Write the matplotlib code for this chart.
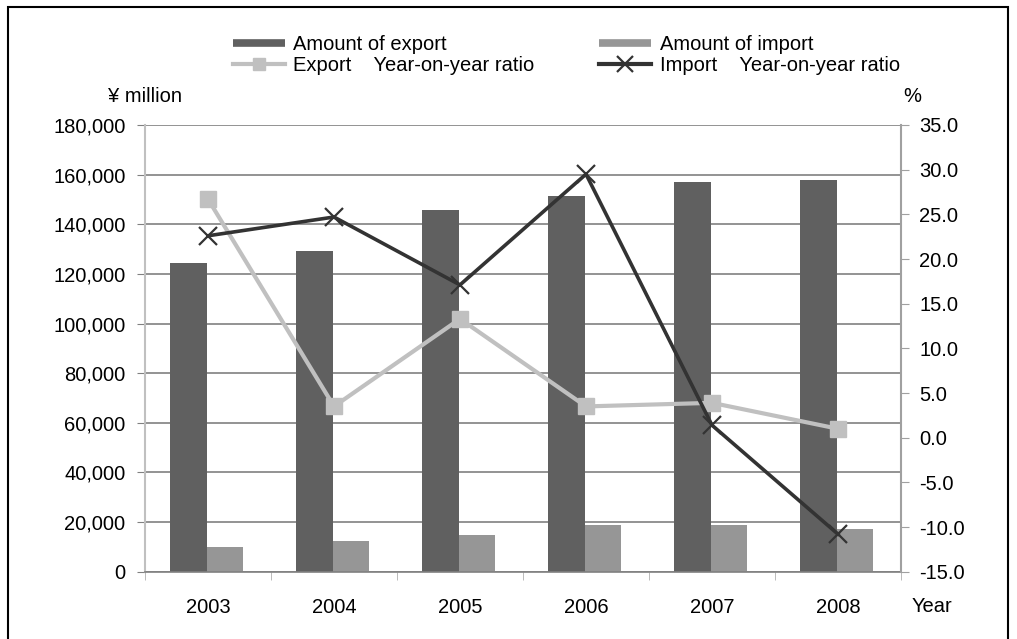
import matplotlib.pyplot as plt
from matplotlib.lines import Line2D
from matplotlib.patches import Rectangle
import numpy as np

plt.rcParams['font.family'] = ['Liberation Sans', 'DejaVu Sans']

# data
years = ['2003', '2004', '2005', '2006', '2007', '2008']
export_amount = [124500, 129400, 145600, 151200, 156900, 157700]
import_amount = [9900, 12400, 14800, 18800, 18800, 17200]
export_yoy = [26.7, 3.5, 13.3, 3.5, 3.9, 1.0]
import_yoy = [22.6, 24.7, 17.1, 29.5, 1.4, -10.8]

left_ticks = [0, 20000, 40000, 60000, 80000, 100000, 120000, 140000, 160000, 180000]
right_ticks = [-15, -10, -5, 0, 5, 10, 15, 20, 25, 30, 35]

EXPORT_BAR = '#606060'
IMPORT_BAR = '#969696'
EXPORT_LINE = '#c0c0c0'
IMPORT_LINE = '#333333'
GRID = '#808080'
FS = 14.5

fig = plt.figure(figsize=(10.17, 6.39), dpi=100)
ax = fig.add_axes([145 / 1017, 1 - 571.7 / 639, (901 - 145) / 1017, (571.7 - 125) / 639])
ax2 = ax.twinx()

x = np.arange(len(years))
w = 0.29
ax.bar(x - 0.155, export_amount, w, color=EXPORT_BAR, zorder=2)
ax.bar(x + 0.135, import_amount, w, color=IMPORT_BAR, zorder=2)

ax.set_ylim(0, 180000)
ax.set_xlim(-0.5, len(years) - 0.5)
ax.set_yticks(left_ticks)
ax.set_yticklabels([f'{v:,}' for v in left_ticks], fontsize=FS)
ax.yaxis.grid(True, color=GRID, lw=1.2)
ax.set_axisbelow(True)

ax.set_xticks(x)
ax.set_xticklabels(years, fontsize=FS)
ax.set_xticks(np.arange(-0.5, len(years)), minor=True)
ax.tick_params(axis='x', which='major', length=0, pad=19)
ax.tick_params(axis='x', which='minor', length=6, color='#b0b0b0', direction='out')
ax.tick_params(axis='y', length=6, color=GRID, pad=8)

for s in ['top', 'right']:
    ax.spines[s].set_visible(False)
ax.spines['left'].set_color('#c0c0c0')
ax.spines['left'].set_linewidth(1.5)
ax.spines['bottom'].set_color(GRID)
ax.spines['bottom'].set_linewidth(1.2)

# ratio lines on the right axis
ax2.plot(x, export_yoy, color=EXPORT_LINE, lw=3, marker='s', markersize=11,
         markeredgecolor=EXPORT_LINE, zorder=3)
ax2.plot(x, import_yoy, color=IMPORT_LINE, lw=2.6, marker='x', markersize=13,
         markeredgewidth=1.6, zorder=4)
ax2.set_ylim(-15, 35)
ax2.set_yticks(right_ticks)
ax2.set_yticklabels([f'{v:.1f}' for v in right_ticks], fontsize=FS)
ax2.tick_params(axis='y', length=6, color='#a0a0a0', pad=7)
for s in ['top', 'left', 'bottom']:
    ax2.spines[s].set_visible(False)
ax2.spines['right'].set_color('#a0a0a0')
ax2.spines['right'].set_linewidth(1.5)

# axis captions
fig.text(145 / 1017, 1 - 97 / 639, '¥ million', fontsize=FS, ha='center', va='center')
fig.text(912 / 1017, 1 - 97 / 639, '%', fontsize=FS, ha='center', va='center')
fig.text(912 / 1017, 1 - 607 / 639, 'Year', fontsize=FS, ha='left', va='center')

handles = [
    Line2D([], [], color=EXPORT_BAR, lw=5.5, solid_capstyle='butt'),
    Line2D([], [], color=EXPORT_LINE, lw=3, marker='s', markersize=9),
    Line2D([], [], color=IMPORT_BAR, lw=5.5, solid_capstyle='butt'),
    Line2D([], [], color=IMPORT_LINE, lw=3, marker='x', markersize=11, markeredgewidth=1.6),
]
labels = ['Amount of export', 'Export    Year-on-year ratio',
          'Amount of import', 'Import    Year-on-year ratio']
fig.legend(handles, labels, loc='upper left', bbox_to_anchor=(233 / 1017, 1 - 35 / 639),
           ncol=2, frameon=False, fontsize=FS, borderpad=0, borderaxespad=0,
           handlelength=2.6, handletextpad=0.4, columnspacing=3.2, labelspacing=0.1)

# outer frame
fig.patches.append(Rectangle((8 / 1017, -0.1), 1000 / 1017, 1.1 - 7 / 639,
                             transform=fig.transFigure, fill=False, ec='black', lw=1.5))

fig.savefig('out.png', dpi=100)
